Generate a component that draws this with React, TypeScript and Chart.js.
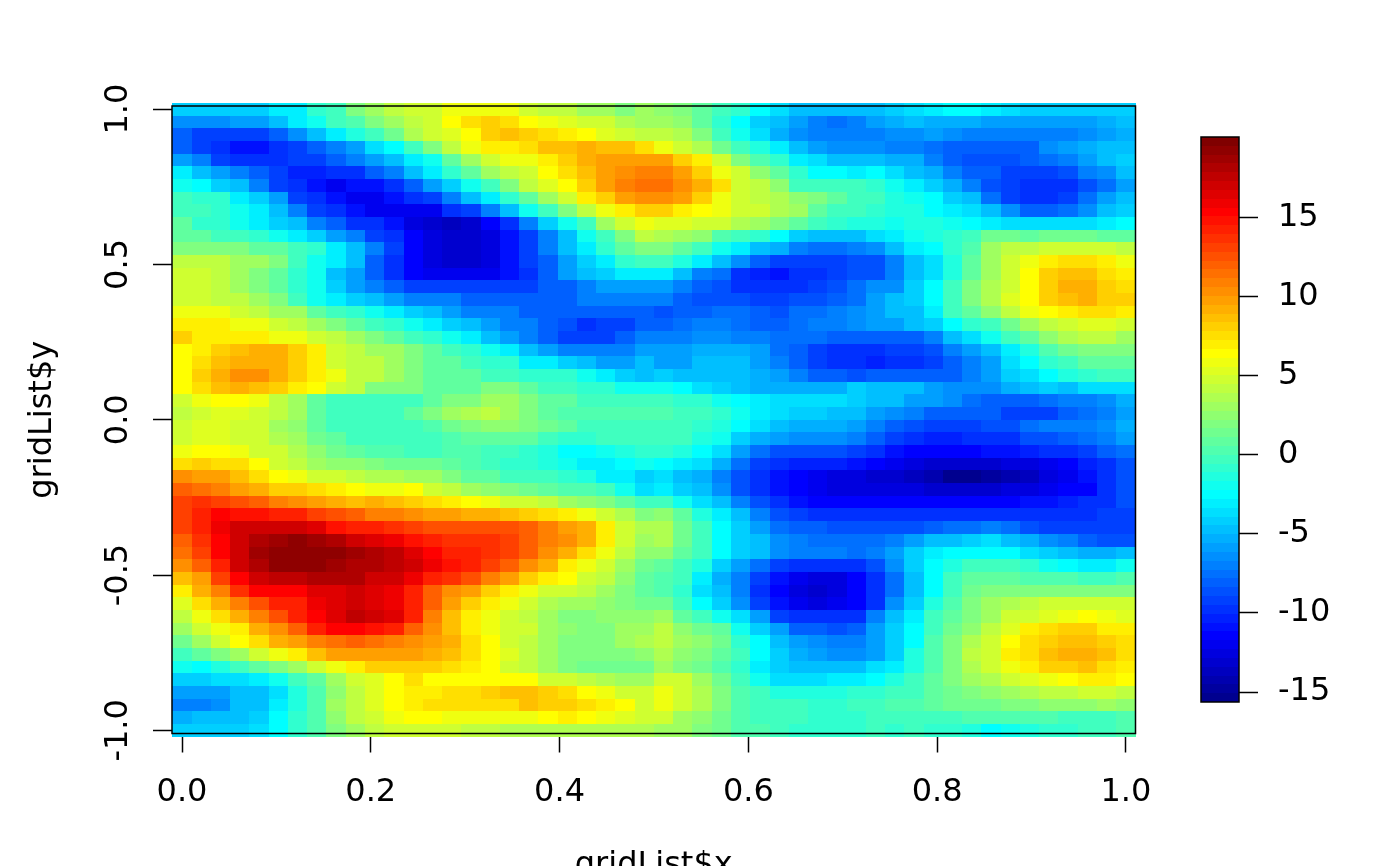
import React, { useEffect, useRef } from "react";
import { Chart, registerables } from "chart.js";

Chart.register(...registerables);

const xTicks = [0, 0.2, 0.4, 0.6, 0.8, 1];
const yTicks = [-1, -0.5, 0, 0.5, 1];
const barTicks = [-15, -10, -5, 0, 5, 10, 15];
const zMin = -15.63;
const zMax = 20.1;
const timColors = ["#00008F","#00009F","#0000AF","#0000BF","#0000CF","#0000DF","#0000EF","#0000FF","#0010FF","#0020FF","#0030FF","#0040FF","#0050FF","#0060FF","#0070FF","#0080FF","#008FFF","#009FFF","#00AFFF","#00BFFF","#00CFFF","#00DFFF","#00EFFF","#00FFFF","#10FFEF","#20FFDF","#30FFCF","#40FFBF","#50FFAF","#60FF9F","#70FF8F","#80FF80","#8FFF70","#9FFF60","#AFFF50","#BFFF40","#CFFF30","#DFFF20","#EFFF10","#FFFF00","#FFEF00","#FFDF00","#FFCF00","#FFBF00","#FFAF00","#FF9F00","#FF8F00","#FF8000","#FF7000","#FF6000","#FF5000","#FF4000","#FF3000","#FF2000","#FF1000","#FF0000","#EF0000","#DF0000","#CF0000","#BF0000","#AF0000","#9F0000","#8F0000","#800000"];

// rows run from y = 1 (top) to y = -1 (bottom); each has 50 columns from x = 0 to x = 1
const row00 = [-4,-4,-4,-4,-4,-3,-3,-1,0,2,3,4,5,5,6,6,6,6,5,4,4,3,3,2,3, 2.5,2,1,0,-1,-2.5,-3.5,-4.5,-5,-5,-5,-5,-4,-3.5,-3,-2.5,-2.5,-3,-3.5,-4,-4,-4,-4,-4,-4];
const row01 = [-6.5,-6.5,-6.5,-6,-6,-5,-3,-2,-0.5,0.5,2,3,4,5,6.5,7.5,8,7.5,6.5,6,5.5,5,4.5,3.5,3, 3,2.5,1,-1,-2.5,-4,-5,-6,-7,-7.5,-7,-6,-5.5,-5,-5.5,-5.5,-5.5,-6,-6,-6,-6,-6,-6,-5.5,-5];
const row02 = [-8,-9,-9,-9,-9,-8,-6.5,-5,-3,-1.5,0,1.5,3.5,4.5,5.5,6.5,8,8.5,8,7.5,7,6.5,5.5,5,4, 4,3.5,2,0,-2,-3.5,-5.5,-6.5,-7,-7,-7,-7,-6.5,-6.5,-6,-6.5,-7,-7,-7,-7,-7,-7,-6.5,-6,-5.5];
const row03 = [-8,-9,-10,-11,-11,-10,-9,-8,-7,-6,-3.5,-2.5,0,2,4,6,7,7,7.5,8.5,8.5,9,8.5,8.5,7.5, 6,5,3.5,1.5,0,-1.5,-3,-4.5,-6,-6.5,-6.5,-6.5,-7,-7,-7.5,-8,-8,-8,-8,-8,-6.5,-6,-5.5,-5,-4.5];
const row04 = [-6,-7,-9,-9.5,-9.5,-9.5,-9,-9,-8,-7,-6,-5,-3,-2,1,3,5,6,6,7,8,9,9.5,10,10, 9.5,8,7,4.5,2,0.5,-1,-3,-3.5,-4.5,-4.5,-5,-5.5,-5.5,-7,-8,-8.5,-8.5,-8.5,-8,-7.5,-7,-6,-5,-4];
const row05 = [-3,-4.5,-6,-7,-8,-9,-10.5,-10.5,-10,-9.5,-8,-7,-5,-3,-1,1,3,4,5,6.5,7.5,8.5,9.5,10.5,11, 11,10,8,6,4.5,2.5,1,-1,-2.5,-2.5,-3,-2.5,-3.5,-4.5,-5.5,-7,-8,-8,-9,-9,-9,-8.5,-7,-6.5,-5];
const row06 = [-2,-2.5,-4,-5,-7,-9,-10,-11,-12,-11,-11,-10,-8,-6,-4,-2,0,2,4,5.5,6.5,8,9.5,11,11.5, 11.5,10.5,9,7.5,5,4,2.5,0,-0.5,0,0,-1,-2,-3,-4,-5.5,-7,-8.5,-9,-10,-10,-9.5,-8.5,-7.5,-6];
const row07 = [0,-1,-1,-3,-4,-6,-9,-10,-11,-12,-12,-11,-10,-9,-7,-5,-3,-1,1,3,5,7,8,9.5,10.5, 10.5,9.5,8,6,5,4,3.5,2.5,2,1,0,-0.5,-1.5,-2,-2.5,-4,-5,-7.5,-9,-10,-10,-9,-7.5,-6,-5];
const row08 = [0,0,-1,-2,-3,-5,-7,-9,-10,-11,-12,-12,-12,-12,-10,-9,-7,-5,-2,0,2,4,6,7,8, 8,7,6.5,6,5,4.5,3.5,3,1,0,-0.5,-1,-1.5,-1.5,-2.5,-3,-3.5,-4.5,-6.5,-8,-8,-7.5,-6.5,-5,-4];
const row09 = [1,-1,-1,-2,-3,-4,-5,-7,-8,-10,-10,-11,-12.5,-13,-13.5,-13,-11.5,-10,-7,-4,-2,0,3,5,6, 5.5,5.5,5,4.5,3.5,3,2,1,0,-1,-1.5,-1.5,-2,-1.5,-1.5,-2,-2.5,-3,-3.5,-3.5,-3.5,-3.5,-3.5,-3,-2.5];
const row10 = [1,1,0,0,-1,-2,-3,-4,-6,-7,-9,-10,-11.5,-12.5,-13,-13,-12.5,-11,-9,-7,-5,-2,0,2,4, 3.5,3,2.5,0.5,0,-1,-2.5,-4,-5,-5,-4.5,-3.5,-3,-2,-1.5,-1,0,1.5,1.5,1,1.5,1.5,1.5,1,1];
const row11 = [2,2,2,2,1,1,0,-1,-3,-5,-7,-9,-11.5,-12.5,-13,-13,-12.5,-11,-9,-7,-5,-3,-1,1,2, 2,1,0,-2,-3,-4.5,-5.5,-7,-7.5,-7.5,-7,-6.5,-4.5,-3,-2.5,-1,0.5,3,4,4,5,5,4.5,4.5,4];
const row12 = [4,4,4,3,3,2,0,-2,-3,-5,-8,-10,-11.5,-12.5,-13,-13,-12.5,-11,-9,-8,-6,-4,-3,-1,0, 0,-1.5,-3,-5,-6.5,-8,-9,-9,-9,-9,-8.5,-8.5,-7,-5,-3.5,-1.5,1,3,5,6,7,7.5,7.5,7,6];
const row13 = [5,5,4,3,2,1,-1,-2,-5,-6,-8,-10,-11.5,-12,-12,-12,-12,-11,-10,-8,-6,-5,-4,-3,-3, -3,-5,-7,-7.5,-9.5,-10.5,-11,-10,-10,-9,-8.5,-8.5,-7,-5,-3.5,-1.5,1,3,5,6.5,8,8.5,8.5,7.5,7];
const row14 = [5,5,4,3,2,1,-1,-2,-4,-6,-7,-8,-9,-9,-9,-9,-9,-9,-9,-8,-8,-7,-6,-6,-6, -6,-7,-8,-8.5,-9.5,-10,-10,-9.5,-9,-8.5,-7.5,-6.5,-6.5,-4,-2.5,-0.5,2,3.5,5,6.5,8,9,9,8,7.5];
const row15 = [5,5,4,4,3,2,0,-2,-3,-4,-5,-6,-7,-7,-7,-8,-8,-8,-8,-8,-8,-7,-7,-7,-7, -7,-8,-8.5,-8.5,-8.5,-9,-9,-8.5,-8.5,-8,-7.5,-6,-5,-4,-2.5,0,2,3.5,5.5,6.5,8,8.5,9,8,8];
const row16 = [6,6,6,5,4,3,3,1,0,-1,-2,-3,-4,-5,-6,-7,-7,-7,-8,-8,-8,-8,-8,-8,-8, -8.5,-8,-8,-7.5,-7.5,-8,-8.5,-7.5,-7.5,-7,-6.5,-6,-5,-4.5,-3,-0.5,1,2.5,4,6,6.5,7,7.5,7.5,7];
const row17 = [7,7,7,6,6,5,4,3,2,1,0,-1,-2,-3,-4,-5,-6,-7,-7,-8,-8.5,-9.5,-9,-9,-8, -8,-7.5,-7,-7,-7.5,-8,-8,-7.5,-7,-7,-6.5,-6,-6,-5,-4,-2.5,-1,0,1.5,3,4,5,5.5,5.5,5];
const row18 = [8,7,7,7,7,6,6,5,4,3,2,1,0,-1,-2,-3,-5,-6,-7,-8,-9,-9,-9,-8,-7, -7,-7,-6.5,-6.5,-7,-7,-7.5,-7.5,-7.5,-8,-8,-8,-8,-8,-7,-4.5,-3.5,-2,-0.5,1,2.5,3.5,4,4,3];
const row19 = [6.5,7,8,8.5,9,9,8,7,5,4,3,3,2,1,0,-1,-2,-3,-5,-6,-7,-7,-7,-7,-6, -6,-6,-5.5,-5.5,-5.5,-6,-7.5,-8,-9,-9.5,-10,-10,-9,-9,-8.5,-7,-6,-5,-3,-1.5,0.5,1.5,2,2,2];
const row20 = [6.5,7.5,8.5,9,9,9,8,7,5,4,4,3,2,1,1,0,-1,-1,-3,-3,-4,-5,-6,-6,-5, -6,-6,-5,-5,-5,-6,-7,-8,-9,-10,-10,-10.5,-10,-9.5,-9,-8,-7,-6,-3.5,-2.5,-1,0,1,1,1];
const row21 = [6.5,8,9,10.5,10.5,9,8,7,6,4,4,3,2,1,1,1,0,0,-1,-1,-1,-2,-3,-4,-5, -4,-5,-5,-5,-5,-5.5,-6,-7,-8,-8,-8.5,-8,-8,-8,-8,-8,-7,-6,-4,-3.5,-2.5,-1.5,-1,-0.5,-0.5];
const row22 = [6.5,7.5,8.5,9,8.5,8,7,6.5,5,4,2,2,2,1,1,1,2,2,1,0,0,-1,-1,-2,-2, -2,-2.5,-3.5,-4,-5,-5.5,-5.5,-5.5,-5.5,-5.5,-4,-4.5,-4.5,-5,-6,-6.5,-6.5,-6.5,-5.5,-5,-4,-4.5,-3.5,-3.5,-3.5];
const row23 = [5,6,6.5,6.5,6,4,3,1,0,0,0,0,0,1,2,2,3,3,2,1,1,0,0,0,0, 0,-1,-1,-2,-2.5,-3,-3.5,-3.5,-3.5,-3.5,-4,-4.5,-4.5,-6,-6,-6.5,-7.5,-8,-8,-8,-7.5,-7,-7,-6.5,-5.5];
const row24 = [4,5,5.5,5.5,5,4,3,1,0,-0.5,0,0,1,2,3,3.5,4,3,2,1,0.5,0.5,0.5,0.5,0.5, 0.5,0,0,-1,-2,-3,-3.5,-4,-4,-4.5,-5,-6,-6.5,-7,-8,-8,-8,-8,-9,-9,-9,-8,-7.5,-7,-6];
const row25 = [4.5,5.5,5.5,5,4.5,3,2.5,1,0,-0.5,-0.5,-0.5,0,0.5,1.5,2,2.5,2.5,2,1.5,1,0,0,0,0, 0,-0.5,-1,-1.5,-2.5,-3.5,-5,-5.5,-5.5,-5.5,-6,-7,-8,-8.5,-9,-9,-9,-8.5,-8.5,-7.5,-7,-7,-7,-6.5,-5.5];
const row26 = [5,5.5,5.5,5,4.5,3.5,3,1.5,1,0,-0.5,-0.5,-0.5,0,0.5,1,1,1,1,0,-1,-1,-0.5,-0.5,-0.5, -0.5,-0.5,-1.5,-2,-4,-5.5,-6,-6.5,-6.5,-6.5,-7,-8,-9,-10,-10.5,-10.5,-10,-9.5,-9.5,-8.5,-8.5,-8,-7.5,-7,-6];
const row27 = [6,6.5,6.5,6,5,4.5,3.5,2.5,1.5,1,0.5,0.5,0,0,0.5,0.5,0,-0.5,-1,-1.5,-2.5,-2.5,-2,-1.5,-1, -1,-1.5,-2.5,-3.5,-6,-7.5,-8.5,-8.5,-8.5,-8.5,-9,-10,-11,-11.5,-11.5,-11.5,-11.5,-11,-11,-10.5,-10,-9.5,-9,-8,-7.5];
const row28 = [7.5,8,7.5,7.5,6.5,5,4,3,2.5,2.5,2,1.5,1.5,1.5,1,0.5,0,-1,-1,-1.5,-2,-3,-3,-2.5,-2, -2.5,-3,-3.5,-5.5,-7.5,-9,-10,-10.5,-10.5,-10.5,-11,-11.5,-12,-12.5,-13,-13,-13,-13,-12.5,-12.5,-12,-11.5,-10.5,-9.5,-8.5];
const row29 = [10.5,10,9.5,8.5,7.5,6.5,6,5,4.5,4,3.5,3.5,3,3,2,1,1,0,-0.5,-0.5,-1,-1.5,-3,-3,-4, -3.5,-4.5,-5.5,-7,-8.5,-10,-11,-11.5,-12,-12.5,-12.5,-13,-13,-13.5,-14.5,-15.5,-15.5,-15,-14,-13.5,-12.5,-12,-11,-9.5,-8.5];
const row30 = [12,11.5,11,10,9,8,8,7.5,7,6.5,6,6,6.5,5,4,3,2.5,2,1.5,1,0.5,0.5,-0.5,-2,-3.5, -3,-4,-5,-6.5,-8.5,-10,-11,-11.5,-12,-12.5,-12.5,-12.5,-12.5,-12.5,-13,-13,-13,-13,-12.5,-12.5,-12,-11.5,-11.5,-10,-8.5];
const row31 = [13,13.5,13,12.5,12,11,10.5,9.5,9,8.5,9,8.5,8,7.5,7,6.5,6,5,4.5,4,3,2.5,2,1,0, 0,-2,-3.5,-5,-7,-8.5,-10,-11,-11.5,-11.5,-11.5,-11.5,-11.5,-11.5,-11.5,-11.5,-11.5,-11.5,-11.5,-11,-11,-10.5,-10,-9.5,-8.5];
const row32 = [13,14.5,15.5,15,15,14.5,14,13,12.5,12,11,11,10.5,10,9.5,9,9,8.5,8,7.5,7,6,5,3.5,2, 2.5,1,-1.5,-3,-5,-7,-8.5,-9,-9.5,-10,-10,-10,-10,-10,-10,-9.5,-9.5,-9.5,-10,-10,-10,-9.5,-9.5,-9,-9];
const row33 = [13,14,16,17,17,17,17,16.5,15,14,14,13.5,13,12.5,12.5,12.5,12.5,12.5,12,11,10,9,7,5,3.5, 3.5,1.5,0,-2.5,-4,-6,-7.5,-8,-8,-8.5,-8.5,-8.5,-8.5,-8.5,-8,-7.5,-7.5,-7,-7.5,-8.5,-9,-9,-9,-9,-9];
const row34 = [12,13.5,15.5,17,18,18.5,19,18.5,18,17,16.5,16,15,14,13.5,13.5,13.5,13,12,11,10.5,9,7,5,3, 3.5,1.5,0,-2.5,-4,-5,-6.5,-7,-7.5,-7.5,-7.5,-7.5,-7,-6,-5,-4.5,-4,-3.5,-4.5,-5.5,-6.5,-7,-8,-8.5,-8.5];
const row35 = [11.5,13,15.5,17,18.5,19,19.5,19.5,19,18.5,18,17.5,16.5,15.5,14.5,14,13.5,13,12,10.5,9,7.5,6,4,2.5, 2.5,1,-0.5,-2.5,-4,-5,-6.5,-7,-7,-7,-7.5,-7,-6,-4,-3,-2.5,-2.5,-2.5,-2.5,-3.5,-4,-5,-5.5,-5.5,-5];
const row36 = [10.5,12,14.5,17,18,19,19,19,18.5,18,18,17.5,17,16,15,14,13,12,10.5,9,7,6,5,3,1.5, 1,0,-1.5,-4,-6,-7.5,-9,-10,-10,-9.5,-9.5,-8.5,-6.5,-4,-2.5,-1.5,0,0,-0.5,-1,-2,-2.5,-3,-3,-2];
const row37 = [8.5,10,13,15.5,17,17.5,17.5,18,18,18,17,17,16,14.5,13.5,12.5,11,9.5,8,7,6.5,5,4,2.5,1, 0.5,0,-3,-5.5,-7,-9,-11,-12,-12.5,-12.5,-11.5,-9.5,-7.5,-4.5,-2.5,-0.5,1,1,1,0.5,0.5,0.5,0,0,0.5];
const row38 = [7,9,11,13.5,15.5,15.5,15.5,16.5,16.5,17,16.5,16,14,12,10.5,9.5,8,7,6,5,4.5,4,3,2,1, 0.5,-1,-3.5,-5,-7,-9.5,-11.5,-12.5,-13,-12.5,-11.5,-10,-7.5,-4.5,-2.5,0,1.5,2,2,2,2,2,2,2,2];
const row39 = [5.5,7.5,9,11,12.5,14,14.5,16,16.5,17,16.5,16,14,12,9.5,8,7,6,4.5,3.5,3,3,2.5,2,1.5, 1.5,0,-2.5,-4,-6.5,-9,-11,-12,-12.5,-12,-11.5,-10,-6.5,-4,-1.5,0.5,2,3,3.5,4,4.5,5,5,5,4.5];
const row40 = [4,6,7.5,9,11,12.5,14,15.5,16.5,17.5,17,16.5,14,11,8.5,7,6,5,4,3,2,2,2.5,2.5,2.5, 3,1,-0.5,-2,-3.5,-6,-9,-10,-10,-10,-9.5,-7,-4.5,-3,-0.5,1,2,3,4.5,5,5.5,6,6.5,6,5.5];
const row41 = [3,5,6,7,9,10.5,12,14,15.5,15.5,15,14,12,10.5,8.5,7,6,5,4.5,3,2.5,2,2,3,3, 4,2.5,1.5,1,-2,-4,-6,-8,-8,-8.5,-8,-6,-4,-2.5,0,1.5,2.5,4,5.5,7,7.5,8,8,7,7];
const row42 = [1.5,3,5,6.5,7.5,9,10,11,11.5,12,11.5,11,10.5,10,9,7.5,6.5,5,4,3,2,2,2,3,3.5, 4,3,2.5,1.5,-1,-2.5,-4.5,-6,-6.5,-7,-7,-6,-4,-2.5,0.5,2,3.5,5,6.5,7.5,8,8.5,8.5,8,7.5];
const row43 = [0,1,2,3,5,6,7,8.5,9.5,10,10,10,9.5,9,8.5,7.5,6.5,5.5,4,3,2,2,2,2,2.5, 3.5,2.5,2,1,-0.5,-2.5,-4,-5.5,-6,-6.5,-6.5,-6,-4,-1.5,0.5,2,4,5,7,7.5,8.5,9,9,8.5,7.5];
const row44 = [-2,-2.5,-1.5,0,1,2,3,5,6,7,8,8,8,8,7.5,7,6.5,5,4,3,2,1.5,1.5,1.5,1.5, 3,2,1.5,0.5,-1,-3,-4,-5,-5,-5,-5,-3.5,-3,-1.5,0.5,2,3.5,4.5,6,7,8,8,8.5,7.5,7];
const row45 = [-4,-4,-3.5,-3.5,-3,-2,0,1,3,5,5.5,6.5,7.5,6.5,6.5,6.5,6.5,6.5,6.5,5,5,4,3.5,3,3, 5,4.5,3,1.5,0,-2,-3.5,-3.5,-3.5,-3,-3,-2.5,-1.5,-0.5,1,2,3,3.5,4.5,5.5,6,6.5,7,7,6.5];
const row46 = [-6,-6,-6,-5,-4.5,-3.5,-1.5,0.5,2.5,4,5.5,6.5,7,7,7.5,7.5,8,8.5,8.5,8,7.5,6.5,6,5,4.5, 6,5,3.5,2,0.5,-0.5,-1.5,-1.5,-1.5,-1.5,-1,-1,-0.5,0,1,1.5,2,2.5,3,3.5,4,4,4.5,4.5,4];
const row47 = [-7,-7,-6.5,-5,-4.5,-3,-1.5,0.5,3,4,5.5,6.5,7,7.5,7.5,7.5,7.5,7.5,8.5,8,8,7.5,7,6.5,5, 6,4.5,3.5,2,0.5,0,0,-0.5,-1,-1,-0.5,0,0.5,0.5,1,1.5,1.5,1.5,2,2,2.5,2.5,2.5,3,2.5];
const row48 = [-5.5,-5,-5,-4.5,-4,-2.5,-1,0.5,2.5,4,5,6,6.5,6.5,6,6,6,6,6,6.5,7,6.5,6,5.5,5, 4.5,3,2.5,1.5,0.5,0,-0.5,-0.5,-1,-1,-1,-0.5,-0.5,-0.5,0,0,0.5,0.5,0.5,0.5,0.5,-0.5,-0.5,0,0.5];
const row49 = [-4,-4,-4,-4,-3.5,-2.5,-1,0.5,2,3,4,4.5,4.5,4.5,4.5,4,4,3.5,3.5,3.5,3.5,3.5,3.5,3.5,3.5, 3,3,2,1.5,0.5,0.5,-0.5,-1,-1,-1,-1,-0.5,-1,-0.5,-1,-1,-1.5,-2.5,-2,-1.5,-1,-1,-0.5,0,0.5];

const zRows = [row00,row01,row02,row03,row04,row05,row06,row07,row08,row09,row10,row11,row12,row13,row14,row15,row16,row17,row18,row19,row20,row21,row22,row23,row24,row25,row26,row27,row28,row29,row30,row31,row32,row33,row34,row35,row36,row37,row38,row39,row40,row41,row42,row43,row44,row45,row46,row47,row48,row49];

const FONT = "'DejaVu Sans', sans-serif";
const FSIZE = 32;

function colorFor(v: number) {
  const i = Math.floor(((v - zMin) / (zMax - zMin)) * timColors.length);
  return timColors[Math.max(0, Math.min(timColors.length - 1, i))];
}

const cellPoints = zRows.flatMap((row, r) =>
  row.map((v, c) => ({ x: c / 49, y: 1 - (2 * r) / 49, v }))
);
const xHalf = 0.5 / 49;
const yHalf = 1 / 49;

const heatPlugin = {
  id: "heat",
  beforeDatasetsDraw(chart: any) {
    const { ctx, scales: { x, y } } = chart;
    ctx.save();
    chart.data.datasets[0].data.forEach((p: any) => {
      const l = Math.round(x.getPixelForValue(p.x - xHalf));
      const r = Math.round(x.getPixelForValue(p.x + xHalf));
      const t = Math.round(y.getPixelForValue(p.y + yHalf));
      const b = Math.round(y.getPixelForValue(p.y - yHalf));
      ctx.fillStyle = colorFor(p.v);
      ctx.fillRect(l, t, r - l, b - t);
    });
    ctx.restore();
  },
  afterDatasetsDraw(chart: any) {
    const { ctx, chartArea: a } = chart;
    ctx.save();
    ctx.strokeStyle = "#000";
    ctx.lineWidth = 1.5;
    ctx.strokeRect(a.left, a.top, a.right - a.left, a.bottom - a.top);
    ctx.restore();
  },
};

const barPoints = timColors.map((color, i) => ({
  x: 0.5,
  y: zMin + ((i + 0.5) * (zMax - zMin)) / timColors.length,
  color,
}));

const barPlugin = {
  id: "bar",
  beforeDatasetsDraw(chart: any) {
    const { ctx, chartArea: a, scales: { y } } = chart;
    const half = (zMax - zMin) / timColors.length / 2;
    ctx.save();
    chart.data.datasets[0].data.forEach((p: any) => {
      const t = Math.round(y.getPixelForValue(p.y + half));
      const b = Math.round(y.getPixelForValue(p.y - half));
      ctx.fillStyle = p.color;
      ctx.fillRect(a.left, t, a.right - a.left, b - t);
    });
    ctx.restore();
  },
  afterDatasetsDraw(chart: any) {
    const { ctx, chartArea: a } = chart;
    ctx.save();
    ctx.strokeStyle = "#000";
    ctx.lineWidth = 1.5;
    ctx.strokeRect(a.left, a.top, a.right - a.left, a.bottom - a.top);
    ctx.restore();
  },
};

const tickGrid = (len: number) => ({
  display: true,
  drawOnChartArea: false,
  drawTicks: true,
  tickLength: len,
  tickWidth: 1.5,
  tickColor: "#000",
});

export default function App() {
  const mainRef = useRef<HTMLCanvasElement>(null);
  const barRef = useRef<HTMLCanvasElement>(null);

  useEffect(() => {
    const main = new Chart(mainRef.current!, {
      type: "scatter",
      data: { datasets: [{ data: cellPoints, pointRadius: 0, showLine: false }] },
      plugins: [heatPlugin],
      options: {
        animation: false,
        responsive: false,
        devicePixelRatio: 1,
        layout: { padding: { left: 0, top: 106, right: 264.5, bottom: 0 } },
        plugins: { legend: { display: false }, tooltip: { enabled: false } },
        scales: {
          x: {
            type: "linear",
            min: -0.0106,
            max: 1.0102,
            grid: tickGrid(19),
            border: { display: false },
            afterFit: (s: any) => { s.height = 132.5; },
            afterBuildTicks: (s: any) => { s.ticks = xTicks.map((value) => ({ value })); },
            ticks: {
              autoSkip: false,
              maxRotation: 0,
              padding: 21,
              color: "#000",
              font: { family: FONT, size: FSIZE },
              callback: (v: any) => Number(v).toFixed(1),
            },
            title: {
              display: true,
              text: "gridList$x",
              color: "#000",
              font: { family: FONT, size: FSIZE },
              padding: { top: 0, bottom: -19 },
            },
          },
          y: {
            type: "linear",
            min: -1.0102,
            max: 1.0102,
            grid: tickGrid(19),
            border: { display: false },
            afterFit: (s: any) => { s.width = 172; },
            afterBuildTicks: (s: any) => { s.ticks = yTicks.map((value) => ({ value })); },
            ticks: {
              autoSkip: false,
              minRotation: 90,
              maxRotation: 90,
              crossAlign: "center",
              padding: 3,
              color: "#000",
              font: { family: FONT, size: FSIZE },
              callback: (v: any) => Number(v).toFixed(1),
            },
            title: {
              display: true,
              text: "gridList$y",
              color: "#000",
              font: { family: FONT, size: FSIZE },
              padding: { top: 23, bottom: 0 },
            },
          },
        },
      } as any,
    });

    const bar = new Chart(barRef.current!, {
      type: "scatter",
      data: { datasets: [{ data: barPoints, pointRadius: 0, showLine: false }] },
      plugins: [barPlugin],
      options: {
        animation: false,
        responsive: false,
        devicePixelRatio: 1,
        layout: { padding: { left: 1201, top: 137, right: 0, bottom: 164 } },
        plugins: { legend: { display: false }, tooltip: { enabled: false } },
        scales: {
          x: { type: "linear", min: 0, max: 1, display: false },
          y: {
            type: "linear",
            position: "right",
            min: zMin,
            max: zMax,
            grid: tickGrid(19),
            border: { display: false },
            afterFit: (s: any) => { s.width = 161; },
            afterBuildTicks: (s: any) => { s.ticks = barTicks.map((value) => ({ value })); },
            ticks: {
              autoSkip: false,
              padding: 20,
              color: "#000",
              font: { family: FONT, size: FSIZE },
              callback: (v: any) => String(v),
            },
          },
        },
      } as any,
    });

    return () => {
      main.destroy();
      bar.destroy();
    };
  }, []);

  const style: React.CSSProperties = { position: "fixed", left: 0, top: 0, width: 1400, height: 866 };
  return (
    <div style={{ position: "fixed", left: 0, top: 0, width: 1400, height: 866, background: "#fff", overflow: "hidden" }}>
      <canvas ref={mainRef} width={1400} height={866} style={style} />
      <canvas ref={barRef} width={1400} height={866} style={style} />
    </div>
  );
}
